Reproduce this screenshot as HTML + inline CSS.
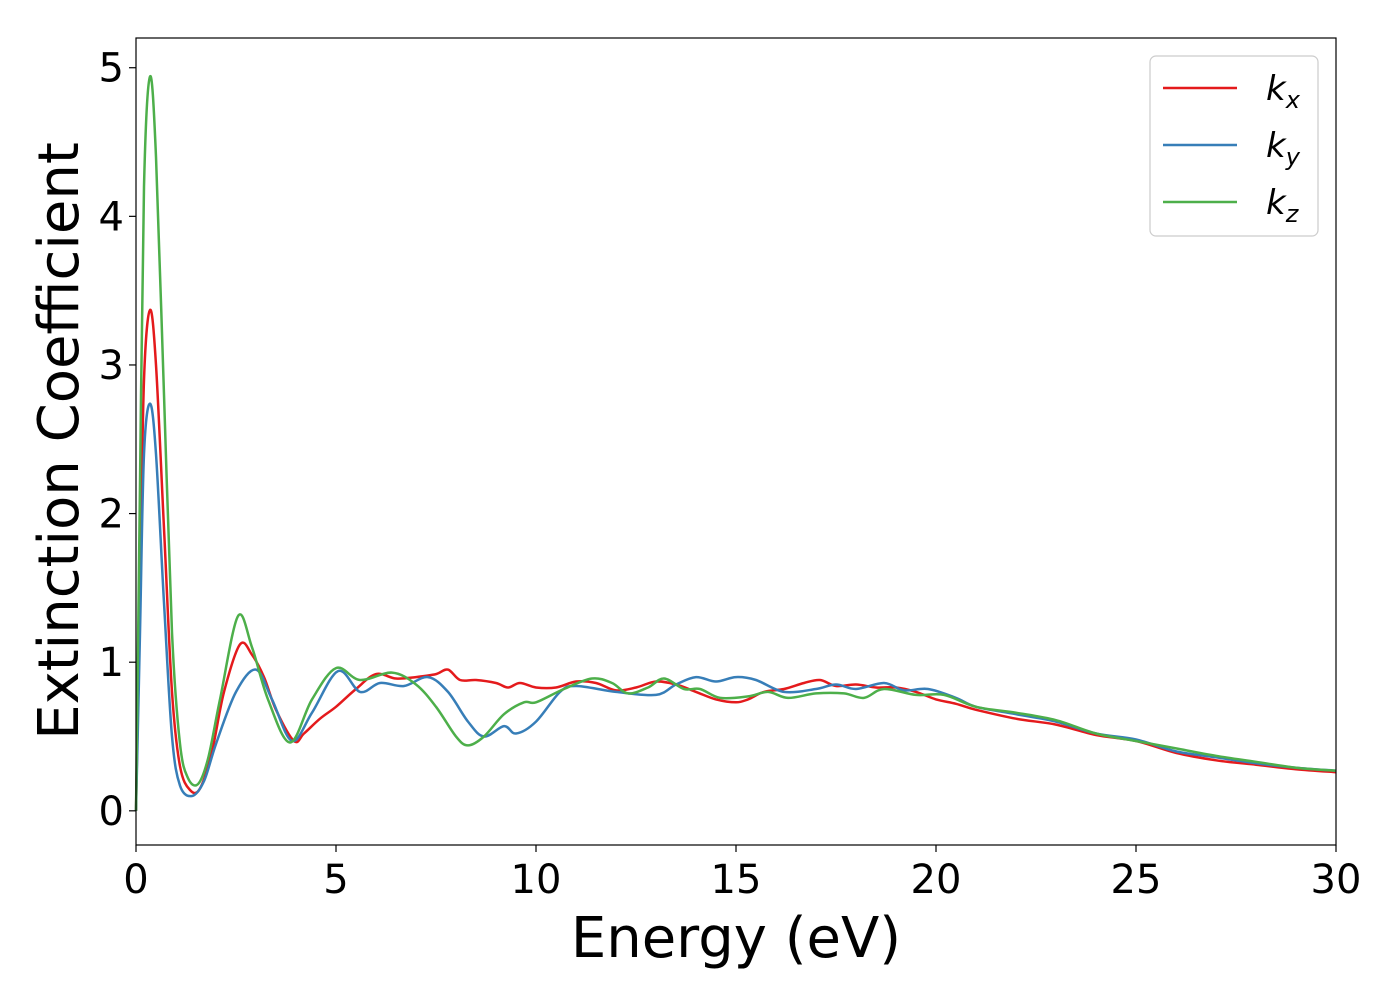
<!DOCTYPE html>
<html><head><meta charset="utf-8"><style>
html,body{margin:0;padding:0;background:#fff;}
svg{display:block;font-family:"DejaVu Sans","Liberation Sans",sans-serif;}
</style></head><body>
<svg id="chart" width="1400" height="1000">
<rect x="0" y="0" width="1400" height="1000" fill="#fff"/>
<g id="series"></g>
<rect x="136" y="38" width="1200" height="807" fill="none" stroke="#000" stroke-width="1.2"/>
<g id="xticks"></g>
<g id="yticks"></g>
<text x="736" y="957" text-anchor="middle" font-size="56">Energy (eV)</text>
<text transform="translate(78,441) rotate(-90)" text-anchor="middle" font-size="56">Extinction Coefficient</text>
<g>
<rect x="1150" y="56" width="168" height="180" rx="6" fill="#fff" fill-opacity="0.8" stroke="#ccc" stroke-width="1.2"/>
<line x1="1163" y1="88" x2="1237" y2="88" stroke="#e41a1c" stroke-width="2.5"/>
<text x="1266" y="100" font-size="34" font-style="italic">k<tspan font-size="24" dy="8">x</tspan></text>
<line x1="1163" y1="145" x2="1237" y2="145" stroke="#377eb8" stroke-width="2.5"/>
<text x="1266" y="157" font-size="34" font-style="italic">k<tspan font-size="24" dy="8">y</tspan></text>
<line x1="1163" y1="202" x2="1237" y2="202" stroke="#4daf4a" stroke-width="2.5"/>
<text x="1266" y="214" font-size="34" font-style="italic">k<tspan font-size="24" dy="8">z</tspan></text>
</g>
</svg>
<script>
const xTicks=[0,5,10,15,20,25,30];
const yTicks=[0,1,2,3,4,5];
const kxE=[0,0.1,0.2,0.35,0.5,0.7,0.9,1.1,1.35,1.6,1.9,2.2,2.6,2.9,3.2,3.5,3.95,4.2,4.6,5.0,5.5,6,6.5,7,7.5,7.8,8.1,8.5,9,9.3,9.6,10,10.5,11,11.5,12,12.5,13,13.5,14,14.5,15,15.3,15.7,16.2,16.7,17.1,17.5,18,18.5,19,19.5,20,20.5,21,22,23,24,25,26,27,28,29,30];
const kxV=[0,1.5,2.9,3.37,3.0,1.9,0.8,0.3,0.14,0.15,0.4,0.8,1.12,1.05,0.9,0.68,0.47,0.52,0.62,0.7,0.82,0.92,0.89,0.9,0.92,0.95,0.88,0.88,0.86,0.83,0.86,0.83,0.83,0.87,0.86,0.81,0.83,0.87,0.85,0.8,0.75,0.73,0.75,0.8,0.82,0.86,0.88,0.84,0.85,0.83,0.83,0.8,0.75,0.72,0.68,0.62,0.58,0.51,0.47,0.39,0.34,0.31,0.28,0.26];
const kyE=[0,0.1,0.2,0.35,0.5,0.7,0.9,1.1,1.4,1.7,2.0,2.5,3.0,3.4,3.9,4.4,5.05,5.6,6.1,6.7,7.3,7.8,8.3,8.7,9.2,9.5,10.0,10.6,11,12,13,13.5,14,14.5,15,15.5,16.2,17,17.5,18,18.7,19.2,19.8,20.5,21,22,23,24,25,26,27,28,29,30];
const kyV=[0,1.2,2.4,2.74,2.4,1.4,0.5,0.17,0.1,0.2,0.45,0.8,0.95,0.75,0.47,0.66,0.94,0.8,0.86,0.84,0.9,0.8,0.6,0.5,0.57,0.52,0.6,0.8,0.84,0.8,0.78,0.85,0.9,0.87,0.9,0.88,0.8,0.82,0.85,0.82,0.86,0.81,0.82,0.76,0.7,0.65,0.6,0.52,0.48,0.4,0.36,0.32,0.29,0.27];
const kzE=[0,0.1,0.2,0.35,0.5,0.7,0.9,1.1,1.3,1.55,1.8,2.1,2.55,2.9,3.3,3.85,4.4,5.0,5.6,6.4,7.0,7.5,8.0,8.3,8.7,9.2,9.7,10,10.7,11.4,11.9,12.3,12.8,13.2,13.7,14.1,14.6,15.3,15.8,16.3,17,17.7,18.2,18.7,19.5,20.2,21,22,23,24,25,26,27,28,29,30];
const kzV=[0,2.2,4.2,4.94,4.4,2.8,1.2,0.45,0.22,0.18,0.35,0.75,1.31,1.1,0.75,0.46,0.75,0.96,0.88,0.93,0.85,0.7,0.5,0.44,0.5,0.65,0.73,0.73,0.82,0.89,0.86,0.79,0.83,0.89,0.82,0.82,0.76,0.77,0.8,0.76,0.79,0.79,0.76,0.82,0.78,0.78,0.7,0.66,0.61,0.52,0.47,0.42,0.37,0.33,0.29,0.27];
const X0=136,X1=1336,Y0=845,Y1=38,XMIN=0,XMAX=30,YMIN=-0.23,YMAX=5.2;
function sx(v){return X0+(v-XMIN)/(XMAX-XMIN)*(X1-X0);}
function sy(v){return Y0-(v-YMIN)/(YMAX-YMIN)*(Y0-Y1);}
const NS="http://www.w3.org/2000/svg";
function pathFor(E,V){
  const p=E.map((e,i)=>[sx(e),sy(V[i])]);
  let d="M"+p[0][0].toFixed(1)+","+p[0][1].toFixed(1);
  for(let i=0;i<p.length-1;i++){
    const a=p[Math.max(i-1,0)],b=p[i],c=p[i+1],n=p[Math.min(i+2,p.length-1)];
    const c1=[b[0]+(c[0]-a[0])/6,b[1]+(c[1]-a[1])/6];
    const c2=[c[0]-(n[0]-b[0])/6,c[1]-(n[1]-b[1])/6];
    d+=" C"+c1[0].toFixed(1)+","+c1[1].toFixed(1)+" "+c2[0].toFixed(1)+","+c2[1].toFixed(1)+" "+c[0].toFixed(1)+","+c[1].toFixed(1);
  }
  return d;
}
const g=document.getElementById("series");
[[kxE,kxV,"#e41a1c","line-kx"],[kyE,kyV,"#377eb8","line-ky"],[kzE,kzV,"#4daf4a","line-kz"]].forEach(s=>{
  const el=document.createElementNS(NS,"path");
  el.setAttribute("d",pathFor(s[0],s[1]));
  el.setAttribute("fill","none");
  el.setAttribute("stroke",s[2]);
  el.setAttribute("stroke-width","2.5");
  
  
  g.appendChild(el);
});
const xg=document.getElementById("xticks");
xTicks.forEach(t=>{
  const l=document.createElementNS(NS,"line");
  l.setAttribute("x1",sx(t));l.setAttribute("x2",sx(t));l.setAttribute("y1",845);l.setAttribute("y2",852);
  l.setAttribute("stroke","#000");l.setAttribute("stroke-width","1.2");
  
  
  xg.appendChild(l);
  const tx=document.createElementNS(NS,"text");
  tx.setAttribute("x",sx(t));tx.setAttribute("y",893);tx.setAttribute("text-anchor","middle");tx.setAttribute("font-size","40");
  tx.textContent=t;
  
  
  xg.appendChild(tx);
});
const yg=document.getElementById("yticks");
yTicks.forEach(t=>{
  const l=document.createElementNS(NS,"line");
  l.setAttribute("x1",129);l.setAttribute("x2",136);l.setAttribute("y1",sy(t));l.setAttribute("y2",sy(t));
  l.setAttribute("stroke","#000");l.setAttribute("stroke-width","1.2");
  
  
  yg.appendChild(l);
  const tx=document.createElementNS(NS,"text");
  tx.setAttribute("x",124);tx.setAttribute("y",sy(t)+14);tx.setAttribute("text-anchor","end");tx.setAttribute("font-size","40");
  tx.textContent=t;
  
  
  yg.appendChild(tx);
});
</script>
</body></html>
